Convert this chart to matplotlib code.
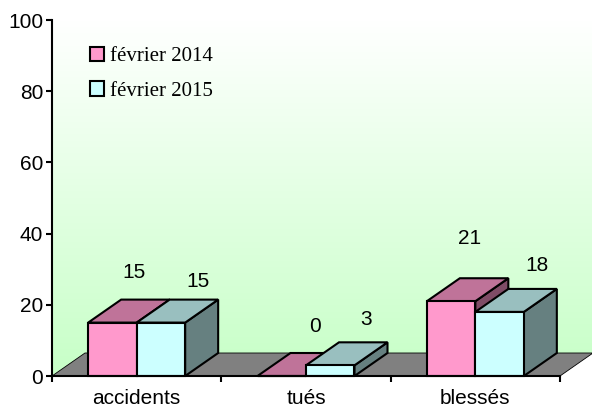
import numpy as np
import matplotlib
matplotlib.use("Agg")
import matplotlib.pyplot as plt
from matplotlib.patches import Patch, Polygon

categories = ["accidents", "tués", "blessés"]
series_names = ["février 2014", "février 2015"]
values_2014 = [15, 0, 21]
values_2015 = [15, 3, 18]
y_ticks = [0, 20, 40, 60, 80, 100]

# label offsets from the bar top, in pixels (the original places them by hand)
label_offsets_2014 = [(22, 50), (33, 50), (18, 63)]
label_offsets_2015 = [(37, 41), (36, 46), (37, 46)]

W, H = 592, 407
colors = {
    "2014": ("#FF99CC", "#BF7399", "#7F4C66"),
    "2015": ("#CCFFFF", "#99BFBF", "#668080"),
}
lw = 1.5
plt.rcParams["font.family"] = ["Liberation Sans", "DejaVu Sans"]

fig = plt.figure(figsize=(W / 100, H / 100), dpi=100)


def px_axes(x0, ytop, x1, ybot):
    return [x0 / W, 1 - ybot / H, (x1 - x0) / W, (ybot - ytop) / H]


# back wall gradient, runs down to the floor edge
bg = fig.add_axes(px_axes(52, 20, 592, 376), zorder=0)
grad = np.ones((256, 2, 3))
t = np.linspace(0, 1, 256)[:, None]
grad[:, :, 0] = 1 - t * (1 - 0.78)
grad[:, :, 2] = 1 - t * (1 - 0.78)
im = bg.imshow(grad, aspect="auto", extent=[0, 540, 356, 0])
wall = Polygon([(0, 0), (540, 0), (540, 333), (34, 333), (0, 356)], closed=True,
               transform=bg.transData, facecolor="none", edgecolor="none")
bg.add_patch(wall)
im.set_clip_path(wall)
bg.axis("off")

ax = fig.add_axes(px_axes(52, 20, 560, 376), zorder=1)
ax.patch.set_alpha(0)
ax.set_xlim(-0.5, 2.5)
ax.set_ylim(0, 100)

# depth of the fake 3d, in data units
dx = 33 / (508 / 3)
dy = 23 / 3.56
bar_w = 48.5 / (508 / 3)


def poly(pts, color, z):
    ax.add_patch(Polygon(pts, closed=True, facecolor=color, edgecolor="black",
                         linewidth=lw, joinstyle="miter", clip_on=False, zorder=z))


# floor
ax.add_patch(Polygon([(-0.5, 0), (2.5, 0), (2.5 + dx, dy), (-0.5 + dx, dy)], closed=True,
                     facecolor="#808080", edgecolor="black", linewidth=0.6,
                     clip_on=False, zorder=2))


def box(x, v, cols, z):
    front, top, side = cols
    x1 = x + bar_w
    poly([(x1, 0), (x1 + dx, dy), (x1 + dx, v + dy), (x1, v)], side, z)
    poly([(x, v), (x1, v), (x1 + dx, v + dy), (x + dx, v + dy)], top, z)
    poly([(x, 0), (x1, 0), (x1, v), (x, v)], front, z)


for i in range(len(categories)):
    box(i - bar_w, values_2014[i], colors["2014"], 3 + i)
    box(i, values_2015[i], colors["2015"], 3.5 + i)
    ax.annotate(str(values_2014[i]), (i - bar_w / 2, values_2014[i]),
                xytext=(label_offsets_2014[i][0] * 0.72, label_offsets_2014[i][1] * 0.72),
                textcoords="offset points", ha="center", va="center", fontsize=15,
                annotation_clip=False, zorder=10)
    ax.annotate(str(values_2015[i]), (i + bar_w / 2, values_2015[i]),
                xytext=(label_offsets_2015[i][0] * 0.72, label_offsets_2015[i][1] * 0.72),
                textcoords="offset points", ha="center", va="center", fontsize=15,
                annotation_clip=False, zorder=10)

# axes
for s in ["top", "right"]:
    ax.spines[s].set_visible(False)
for s in ["left", "bottom"]:
    ax.spines[s].set_linewidth(lw)
    ax.spines[s].set_zorder(20)
ax.set_yticks(y_ticks)
ax.tick_params(axis="y", length=4.3, width=lw, pad=2, labelsize=15)
ax.set_xticks(np.arange(-0.5, 3, 1))
ax.set_xticklabels([])
ax.tick_params(axis="x", which="major", length=4.3, width=lw)
ax.set_xticks(range(3), categories, minor=True)
ax.tick_params(axis="x", which="minor", length=0, pad=9.5, labelsize=15)

handles = [
    Patch(facecolor=colors["2014"][0], edgecolor="black", linewidth=lw),
    Patch(facecolor=colors["2015"][0], edgecolor="black", linewidth=lw),
]
ax.legend(handles, series_names, loc="upper left", bbox_to_anchor=(38 / 508, 1 - 27 / 356),
          frameon=False, prop={"family": "Liberation Serif", "size": 15},
          handlelength=0.67, handleheight=0.67, handletextpad=0.3, labelspacing=0.72,
          borderpad=0, borderaxespad=0)

fig.savefig("out.png", dpi=100)
